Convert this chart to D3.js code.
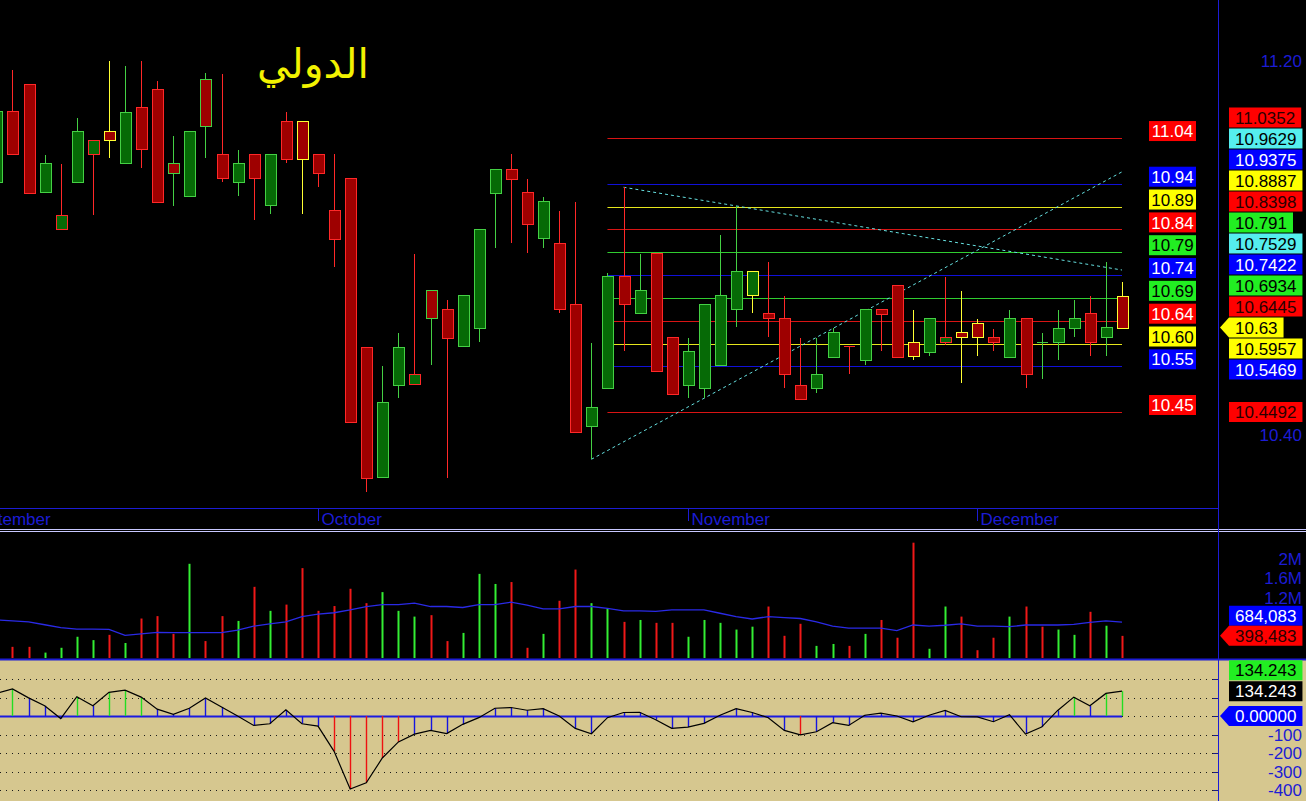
<!DOCTYPE html>
<html><head><meta charset="utf-8">
<script src="https://cdn.jsdelivr.net/npm/d3@7/dist/d3.min.js"></script>
<style>
html,body{margin:0;padding:0;background:#000;overflow:hidden}
svg{display:block}
</style></head><body>
<svg id="c" width="1306" height="801"></svg>
<script>
// ---------------- DATA ----------------
const title = "الدولي";
// index 0 = partially visible candle at the left edge
const opens  = [10.940,11.092,11.151,10.918,10.840,10.941,11.000,11.050,10.981,11.101,11.140,10.981,10.911,11.161,11.000,10.940,11.000,10.890,11.072,11.072,11.000,10.881,10.949,10.589,10.309,10.508,10.508,10.710,10.669,10.589,10.628,10.918,10.970,10.919,10.820,10.810,10.680,10.418,10.500,10.740,10.660,10.790,10.610,10.508,10.500,10.549,10.669,10.699,10.660,10.650,10.508,10.499,10.567,10.590,10.559,10.669,10.721,10.598,10.578,10.598,10.620,10.639,10.609,10.567,10.650,10.598,10.597,10.628,10.660,10.609,10.698];
const highs  = [11.092,11.181,11.151,10.999,10.980,11.079,11.031,11.200,11.190,11.200,11.158,11.040,11.050,11.174,11.172,11.010,11.000,11.000,11.090,11.072,11.000,11.001,10.949,10.589,10.548,10.619,10.787,10.710,10.689,10.699,10.840,10.970,11.001,10.948,10.910,10.880,10.899,10.597,10.747,10.930,10.787,10.790,10.610,10.608,10.680,10.828,10.890,10.751,10.769,10.697,10.607,10.607,10.628,10.590,10.669,10.669,10.721,10.667,10.650,10.739,10.708,10.648,10.627,10.667,10.650,10.619,10.667,10.689,10.697,10.769,10.728];
const lows   = [10.940,11.000,10.918,10.918,10.840,10.941,10.871,10.993,10.981,10.972,10.899,10.890,10.911,10.992,10.942,10.912,10.860,10.872,10.982,10.872,10.931,10.760,10.428,10.279,10.309,10.480,10.508,10.550,10.309,10.589,10.598,10.801,10.810,10.789,10.801,10.660,10.407,10.348,10.500,10.580,10.660,10.538,10.489,10.480,10.480,10.549,10.630,10.662,10.610,10.501,10.478,10.490,10.567,10.530,10.550,10.580,10.567,10.560,10.570,10.593,10.511,10.570,10.580,10.567,10.500,10.520,10.560,10.610,10.570,10.570,10.630];
const closes = [11.092,11.000,10.918,10.981,10.871,11.050,11.031,11.031,11.091,11.011,10.899,10.960,11.050,11.061,10.949,10.981,10.949,11.000,10.990,10.990,10.960,10.820,10.428,10.309,10.470,10.589,10.530,10.650,10.608,10.699,10.840,10.970,10.949,10.850,10.900,10.669,10.407,10.459,10.740,10.680,10.710,10.538,10.489,10.580,10.680,10.699,10.751,10.751,10.649,10.530,10.478,10.530,10.620,10.590,10.669,10.659,10.567,10.567,10.650,10.609,10.609,10.609,10.598,10.650,10.530,10.598,10.628,10.650,10.597,10.630,10.630];
// volume in millions
const volumes = [null,0.17,0.17,0.05,0.15,0.38,0.31,0.42,0.25,0.76,0.81,0.44,1.90,0.29,0.81,0.71,1.42,0.92,1.05,1.81,0.92,1.02,1.38,1.08,1.31,0.92,0.80,0.83,0.29,0.46,1.69,1.48,1.52,0.15,0.44,1.13,1.78,1.08,0.97,0.69,0.73,0.67,0.67,0.38,0.73,0.67,0.53,0.59,1.01,0.40,0.65,0.19,0.23,0.19,0.44,0.73,0.36,2.34,0.13,1.01,0.80,0.10,0.36,0.80,1.01,0.59,0.53,0.42,0.90,0.61,0.398483];
const volumeMA = [0.73,0.71,0.69,0.63,0.57,0.54,0.54,0.535,0.41,0.44,0.47,0.465,0.465,0.465,0.465,0.52,0.60,0.65,0.69,0.80,0.85,0.88,0.94,1.01,1.05,1.05,1.08,1.01,1.01,0.99,1.05,1.05,1.10,1.04,0.96,0.96,1.01,1.01,0.97,0.92,0.92,0.91,0.94,0.94,0.94,0.87,0.80,0.75,0.80,0.78,0.76,0.69,0.60,0.56,0.56,0.56,0.51,0.625,0.60,0.62,0.65,0.60,0.60,0.59,0.625,0.625,0.625,0.64,0.68,0.71,0.684083];
const oscillator = [122,146,98,55,-14,104,55,128,140,102,37,9,42,97,49,0,-51,-42,33,-42,-55,-191,-395,-361,-227,-140,-98,-78,-95,-45,-9,42,46,31,40,0,-67,-96,-9,19,20,-20,-67,-60,-40,4,40,19,-9,-78,-102,-85,-36,-51,4,15,0,-31,4,30,-4,-5,-31,7,-98,-60,30,102,55,122,134.243];
const monthLabels = ["September","October","November","December"];
const monthStartIndex = [-2,20,43,61];
const levelValues = [11.0352,10.9375,10.8887,10.8398,10.791,10.7422,10.6934,10.6445,10.5957,10.5469,10.4492];
const levelStart = 38, levelEnd = 70;
const trendUp   = [[37,10.348],[70,10.9629]];
const trendDown = [[39,10.930],[70,10.7529]];
const priceTicks = [10.40,11.20];
const volumeTicks = [1.2,1.6,2];
const oscTicks = [200,100,0,-100,-200,-300,-400];

// ---------------- STYLE ----------------
const levelColors = ["red","blue","yellow","red","green","blue","green","red","yellow","blue","red"];
const lineCol = {red:"#d81414",blue:"#1010d8",yellow:"#e6e61c",green:"#30cc30"};
const boxCol  = {red:"#ff0000",blue:"#0000ff",yellow:"#ffff00",green:"#22ee22",cyan:"#55eeee"};
const boxText = {red:"#2a0000",blue:"#ffffff",yellow:"#000000",green:"#000000",cyan:"#000000"};
const leftText = {red:"#ffffff",blue:"#ffffff",yellow:"#000000",green:"#000000"};
const axisBlue = "#1c1cd4";
const FONT = "Arial, 'Liberation Sans', sans-serif";

// ---------------- SCALES ----------------
const axisX = 1218;
const x  = d3.scaleLinear().domain([0,70]).range([-3.58,1122]);
const y  = d3.scaleLinear().domain([10.40,11.20]).range([435,61]);
const yv = d3.scaleLinear().domain([0,2]).range([655,559]);
const yo = d3.scaleLinear().domain([-400,200]).range([790,679]);

const svg = d3.select("#c");
svg.append("rect").attr("width",1306).attr("height",801).attr("fill","#000");
svg.append("rect").attr("x",0).attr("y",660).attr("width",1306).attr("height",141).attr("fill","#d6c78f");

const defs = svg.append("defs");
defs.append("clipPath").attr("id","pc").append("rect").attr("x",0).attr("y",0).attr("width",axisX).attr("height",507);
defs.append("clipPath").attr("id","dc").append("rect").attr("x",0).attr("y",508).attr("width",axisX).attr("height",22);

// ---------------- PRICE PANEL ----------------
const pg = svg.append("g").attr("clip-path","url(#pc)");

pg.append("text").attr("x",313).attr("y",78).attr("text-anchor","middle")
  .attr("font-family","'DejaVu Sans', sans-serif").attr("font-size",41).attr("fill","#f2f200")
  .attr("direction","rtl").text(title);

// level lines
pg.selectAll("line.lvl").data(levelValues).join("line")
  .attr("x1",x(levelStart)).attr("x2",x(levelEnd))
  .attr("y1",d=>Math.round(y(d))+0.5).attr("y2",d=>Math.round(y(d))+0.5)
  .attr("stroke",(d,i)=>lineCol[levelColors[i]]).attr("stroke-width",1.2);

// trend lines
[trendUp,trendDown].forEach(t=>{
  pg.append("line").attr("x1",x(t[0][0])).attr("y1",y(t[0][1])).attr("x2",x(t[1][0])).attr("y2",y(t[1][1]))
    .attr("stroke","#66e0e0").attr("stroke-width",1).attr("stroke-dasharray","3,3");
});

// candles: body colour = close vs open, edge colour = close vs previous close
const idx = d3.range(opens.length);
const edgeColor = i => {
  if (i===0) return "#44d044";
  const d = closes[i]-closes[i-1];
  if (Math.abs(d) < 0.0005) return "#ffff33";
  return d>0 ? "#44d044" : "#ff2828";
};
const cg = pg.append("g").attr("shape-rendering","crispEdges");
const bw = 11;
idx.forEach(i=>{
  const cx = Math.round(x(i))+0.5, ec = edgeColor(i);
  cg.append("line").attr("x1",cx).attr("x2",cx).attr("y1",y(highs[i])).attr("y2",y(lows[i])).attr("stroke",ec);
  const top = y(Math.max(opens[i],closes[i])), bot = y(Math.min(opens[i],closes[i]));
  if (bot-top < 1.5) {
    cg.append("line").attr("x1",cx-bw/2).attr("x2",cx+bw/2).attr("y1",Math.round(top)+0.5).attr("y2",Math.round(top)+0.5).attr("stroke",ec);
  } else {
    cg.append("rect").attr("x",cx-bw/2).attr("y",Math.round(top)+0.5).attr("width",bw).attr("height",Math.round(bot-top))
      .attr("fill",closes[i]>opens[i]?"#066a06":"#9e0000").attr("stroke",ec).attr("stroke-width",1);
  }
});

// left level labels
levelValues.forEach((v,i)=>{
  const c = levelColors[i], cy = y(v)-7;
  svg.append("rect").attr("x",1149).attr("y",cy-10).attr("width",47).attr("height",20).attr("fill",boxCol[c]);
  svg.append("text").attr("x",1172.5).attr("y",cy).attr("dy","0.36em").attr("text-anchor","middle")
    .attr("font-family",FONT).attr("font-size",17).attr("fill",leftText[c]).text(v.toFixed(2));
});

// ---------------- AXIS LINES / SEPARATORS ----------------
svg.append("line").attr("x1",0).attr("x2",axisX).attr("y1",508.5).attr("y2",508.5).attr("stroke",axisBlue);
svg.append("line").attr("x1",0).attr("x2",1306).attr("y1",529.5).attr("y2",529.5).attr("stroke","#c8c8ff");
svg.append("line").attr("x1",0).attr("x2",1306).attr("y1",531.5).attr("y2",531.5).attr("stroke","#c8c8ff");
svg.append("line").attr("x1",0).attr("x2",1306).attr("y1",659.5).attr("y2",659.5).attr("stroke",axisBlue).attr("stroke-width",2);
svg.append("line").attr("x1",axisX+0.5).attr("x2",axisX+0.5).attr("y1",0).attr("y2",801).attr("stroke",axisBlue);

// month labels
const dg = svg.append("g").attr("clip-path","url(#dc)");
monthLabels.forEach((m,i)=>{
  const mx = Math.round(x(monthStartIndex[i]))+0.5;
  dg.append("line").attr("x1",mx).attr("x2",mx).attr("y1",509).attr("y2",521).attr("stroke",axisBlue);
  dg.append("text").attr("x",mx+3).attr("y",525).attr("font-family",FONT).attr("font-size",17).attr("fill",axisBlue).text(m);
});

// price tick labels
priceTicks.forEach(v=>{
  svg.append("text").attr("x",1302).attr("y",y(v)).attr("dy","0.36em").attr("text-anchor","end")
    .attr("font-family",FONT).attr("font-size",17).attr("fill",axisBlue).text(v.toFixed(2));
});

// stacking of right-side value labels
function stackLabels(items, h){
  items.sort((a,b)=>a.ideal-b.ideal || a.order-b.order);
  const a = items.findIndex(d=>d.anchor);
  items[a].pos = items[a].ideal;
  for (let i=a-1;i>=0;i--) items[i].pos = Math.min(items[i].ideal, items[i+1].pos-h);
  for (let i=a+1;i<items.length;i++) items[i].pos = Math.max(items[i].ideal, items[i-1].pos+h);
  return items;
}
const fmtTrim = v => (+v.toFixed(4)).toString();
function rightLabel(cy, text, bg, fg, arrow){
  const g = svg.append("g");
  const t = g.append("text").attr("x",1235).attr("y",cy).attr("dy","0.36em")
    .attr("font-family",FONT).attr("font-size",17).attr("fill",fg).text(text);
  const w = t.node().getComputedTextLength();
  const x0 = 1229, x1 = Math.min(1304, 1235+w+6);
  const pts = arrow ? [[1220,cy],[x0,cy-10],[x1,cy-10],[x1,cy+10],[x0,cy+10]]
                    : [[x0,cy-10],[x1,cy-10],[x1,cy+10],[x0,cy+10]];
  g.insert("path",()=>t.node()).attr("d","M"+pts.map(p=>p.join(",")).join("L")+"Z").attr("fill",bg);
}
const lastClose = closes[closes.length-1];
const priceItems = levelValues.map((v,i)=>({ideal:y(v),text:fmtTrim(v),c:levelColors[i],order:1}))
  .concat([trendUp,trendDown].map(t=>({ideal:y(t[1][1]),text:fmtTrim(t[1][1]),c:"cyan",order:1})))
  .concat([{ideal:y(lastClose),text:fmtTrim(lastClose),c:"yellow",anchor:true,arrow:true,order:0}]);
stackLabels(priceItems,21).forEach(d=>rightLabel(d.pos,d.text,boxCol[d.c],boxText[d.c],d.arrow));

// ---------------- VOLUME PANEL ----------------
const vg = svg.append("g");
idx.forEach(i=>{
  if (volumes[i]==null) return;
  vg.append("line").attr("x1",Math.round(x(i))+0.5).attr("x2",Math.round(x(i))+0.5)
    .attr("y1",yv(volumes[i])).attr("y2",yv(0)+3)
    .attr("stroke",closes[i]>opens[i]?"#33ee33":"#f01818").attr("stroke-width",2);
});
vg.append("path").datum(idx).attr("fill","none").attr("stroke","#2a2ae6").attr("stroke-width",1.3)
  .attr("d",d3.line().x(i=>x(i)).y(i=>yv(volumeMA[i])));
volumeTicks.forEach(v=>{
  svg.append("text").attr("x",1302).attr("y",yv(v)).attr("dy","0.36em").attr("text-anchor","end")
    .attr("font-family",FONT).attr("font-size",17).attr("fill",axisBlue).text(d3.format("~g")(v)+"M");
});
const fmtVol = d3.format(",");
const lastVol = volumes[volumes.length-1], lastMA = volumeMA[volumeMA.length-1];
stackLabels([
  {ideal:yv(lastVol),text:fmtVol(Math.round(lastVol*1e6)),bg:"#ff0000",fg:"#2a0000",arrow:true,anchor:true,order:0},
  {ideal:yv(lastMA),text:fmtVol(Math.round(lastMA*1e6)),bg:"#0000ff",fg:"#ffffff",order:1}
],20).forEach(d=>rightLabel(d.pos,d.text,d.bg,d.fg,d.arrow));

// ---------------- OSCILLATOR PANEL ----------------
const og = svg.append("g");
const lastOsc = oscillator[oscillator.length-1];
const oscLabels = stackLabels([
  {ideal:yo(0),text:(0).toFixed(5),bg:"#0000ff",fg:"#ffffff",arrow:true,anchor:true,order:2},
  {ideal:yo(lastOsc),text:lastOsc.toFixed(3),bg:"#000000",fg:"#ffffff",order:1},
  {ideal:yo(lastOsc),text:lastOsc.toFixed(3),bg:"#22ee22",fg:"#000000",order:0}
],21);
oscTicks.forEach(v=>{
  const ty = yo(v);
  og.append("line").attr("x1",0).attr("x2",axisX).attr("y1",Math.round(ty)+0.5).attr("y2",Math.round(ty)+0.5)
    .attr("stroke","#1a1a1a").attr("stroke-dasharray","1,5");
  og.append("line").attr("x1",axisX-5).attr("x2",axisX).attr("y1",Math.round(ty)+0.5).attr("y2",Math.round(ty)+0.5)
    .attr("stroke","#1c1c80");
  // tick text is hidden where a value label covers it
  if (oscLabels.some(l=>Math.abs(l.pos-ty)<16)) return;
  og.append("text").attr("x",1302).attr("y",ty).attr("dy","0.36em").attr("text-anchor","end")
    .attr("font-family",FONT).attr("font-size",17).attr("fill",axisBlue).text(v);
});
og.append("line").attr("x1",0).attr("x2",x(70)).attr("y1",Math.round(yo(0))+0.5).attr("y2",Math.round(yo(0))+0.5)
  .attr("stroke","#1a1ae0").attr("stroke-width",2);
idx.forEach(i=>{
  const v = oscillator[i];
  og.append("line").attr("x1",Math.round(x(i))+0.5).attr("x2",Math.round(x(i))+0.5)
    .attr("y1",yo(0)).attr("y2",yo(v))
    .attr("stroke",v>100?"#22dd22":(v<-100?"#ee1111":"#1515e0")).attr("stroke-width",1.4);
});
og.append("path").datum(idx).attr("fill","none").attr("stroke","#000").attr("stroke-width",1.2)
  .attr("d",d3.line().x(i=>x(i)).y(i=>yo(oscillator[i])));
oscLabels.forEach(d=>rightLabel(d.pos,d.text,d.bg,d.fg,d.arrow));
</script>
</body></html>
